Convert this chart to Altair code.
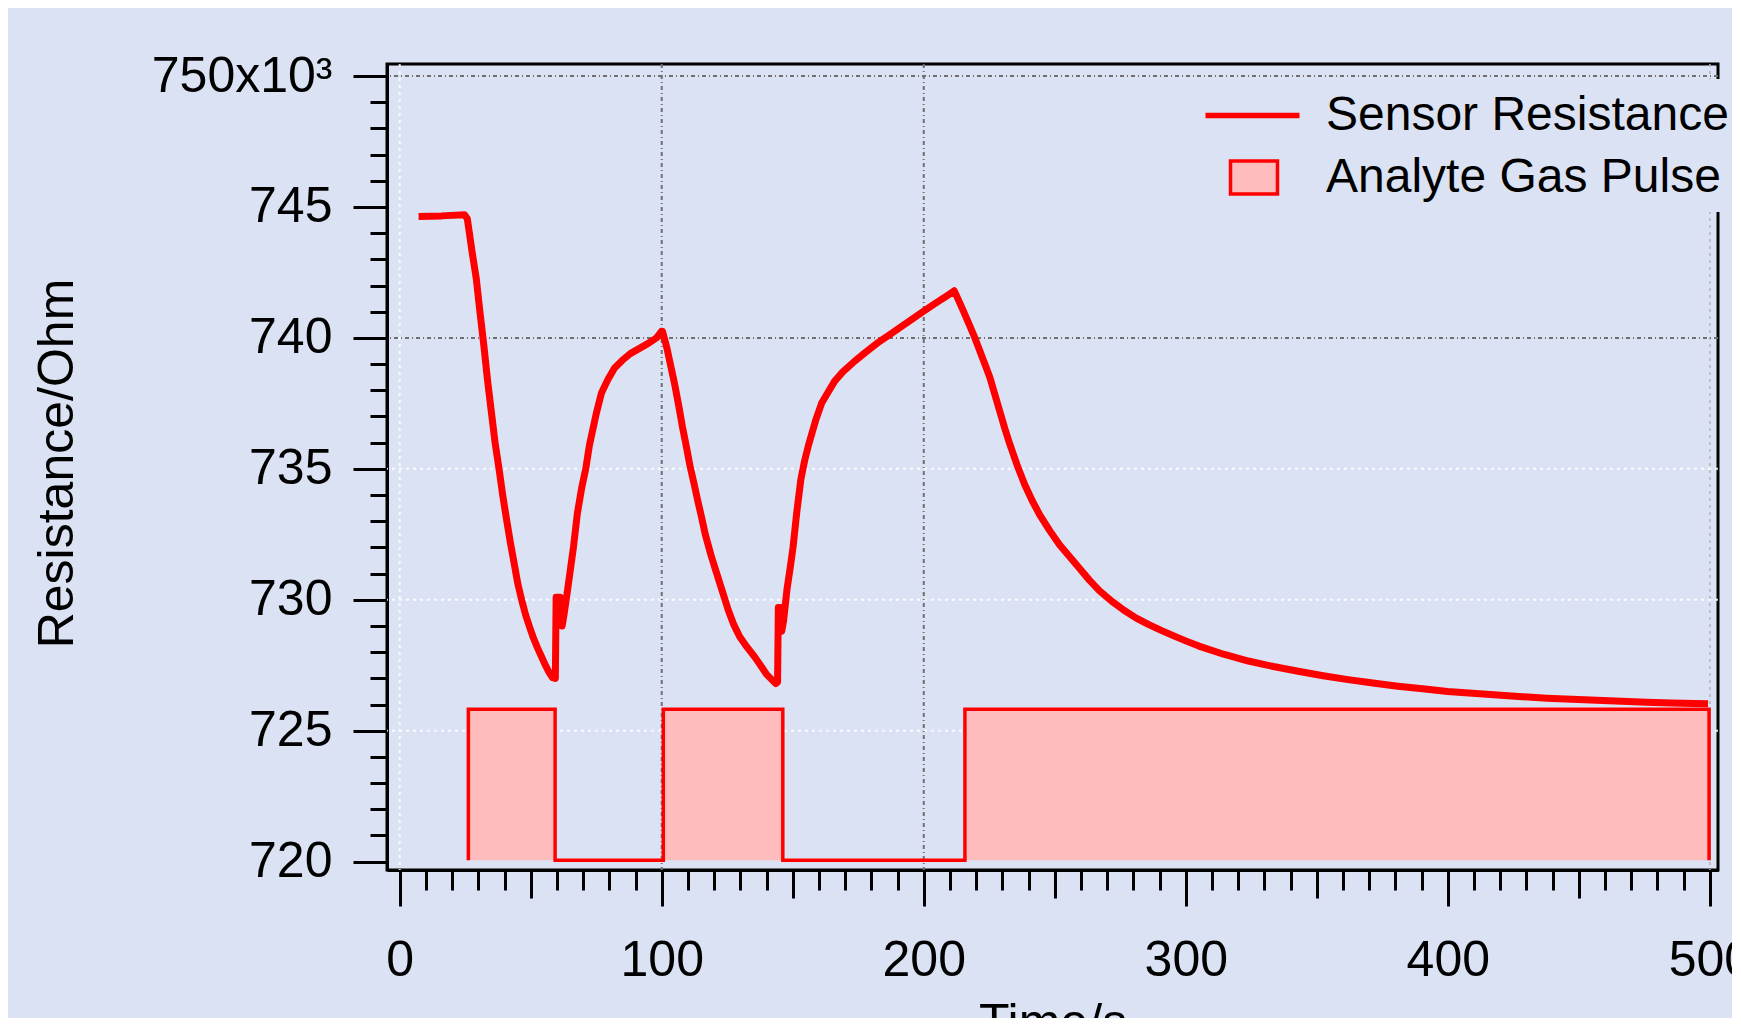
import altair as alt
import pandas as pd

BG = "#dae2f3"
FONT = "Liberation Sans"

# ---- Sensor resistance trace (time / s, resistance / kOhm) ----
trace_t = [7.2, 16.0, 24.8, 25.8, 26.6, 27.6, 29.2, 30.6, 32.1, 33.5, 35.0, 36.4, 37.9, 39.3,
           40.8, 42.2, 43.7, 45.1, 46.6, 48.1, 49.6, 51.0, 52.5, 54.0, 55.4, 56.9, 58.3, 59.4,
           59.7, 61.2, 62.0, 62.8, 64.1, 66.3, 67.8, 69.5, 71.0, 72.4, 75.1, 77.0, 79.4, 82.0,
           85.0, 88.0, 91.5, 95.0, 98.0, 99.9,
           100.3, 102.0, 103.5, 105.0, 106.5, 107.9, 109.4, 110.8, 112.3, 113.7, 115.2, 116.6,
           118.8, 121.0, 123.2, 125.4, 127.5, 129.7, 132.5, 135.6, 138.0, 140.0, 142.0, 143.5,
           144.2, 144.5, 145.2, 145.8, 146.5, 147.8, 149.0, 150.1, 151.6, 153.1, 154.5, 156.0,
           158.9, 161.0, 163.3, 166.0, 169.1, 173.5, 177.8, 182.2, 186.6, 191.0, 195.3, 199.7,
           204.1, 208.0, 211.6,
           213.0, 215.0, 217.6, 219.5, 221.4, 223.3, 225.2, 227.1, 229.0, 230.9, 232.8, 235.6,
           238.5, 241.3, 244.2, 248.0, 251.8, 255.6, 259.4, 263.2, 267.0, 271.7, 276.4, 281.1,
           285.9, 290.6, 295.4, 300.2, 305.0, 314.4, 323.9, 333.4, 342.9, 352.4, 361.9, 371.4,
           380.9, 390.4, 399.9, 409.4, 418.9, 428.4, 437.8, 447.3, 456.8, 466.3, 475.8, 485.3,
           494.0, 499.3]
trace_r = [744.64, 744.66, 744.70, 744.55, 744.0, 743.3, 742.28, 741.0, 739.72, 738.4, 737.15,
           736.0, 735.0, 734.0, 733.05, 732.2, 731.38, 730.6, 729.97, 729.4, 728.95, 728.55,
           728.18, 727.85, 727.54, 727.25, 727.03, 727.0,
           730.1, 730.1, 729.0, 729.5, 730.4, 732.0, 733.3, 734.3, 735.0, 735.9, 737.15, 737.9,
           738.4, 738.85, 739.15, 739.4, 739.6, 739.8, 740.0, 740.25,
           740.25, 739.6, 738.9, 738.2, 737.4, 736.6, 735.85, 735.1, 734.45, 733.8, 733.15,
           732.5, 731.7, 731.0, 730.3, 729.6, 729.05, 728.6, 728.2, 727.8, 727.45, 727.15,
           726.95, 726.8,
           726.85, 729.7, 729.7, 728.8, 729.2, 730.4, 731.2, 732.0, 733.4, 734.6, 735.3, 735.9,
           736.9, 737.5, 737.9, 738.35, 738.7, 739.1, 739.45, 739.8, 740.1, 740.4, 740.7, 741.0,
           741.3, 741.55, 741.8,
           741.5, 741.05, 740.45, 740.0, 739.5, 739.0, 738.5, 737.85, 737.2, 736.55, 735.95,
           735.15, 734.4, 733.8, 733.25, 732.65, 732.1, 731.65, 731.2, 730.75, 730.35, 729.95,
           729.6, 729.3, 729.05, 728.83, 728.62, 728.42, 728.23, 727.92, 727.66, 727.45, 727.27,
           727.1, 726.95, 726.82, 726.7, 726.6, 726.5, 726.43, 726.36, 726.3, 726.24, 726.2,
           726.16, 726.12, 726.09, 726.06, 726.04, 726.03]

# ---- Analyte gas pulse (step wave: off = base level, on = top level) ----
pulse_start = [26.2, 100.6, 215.7]
pulse_end = [59.3, 146.2, 499.7]
PULSE_TOP = 725.82
PULSE_BASE = 720.05

# ---- Grid lines ----
grid_x_dark = [100, 200]
grid_x_white = [0]
grid_x_edge = [500]
grid_y_dark = [740, 750]
grid_y_white = [725, 730, 735]

# ---- Axis ticks / domains ----
x_tick_values = list(range(0, 501, 10))
y_tick_values = list(range(720, 751))
X_DOMAIN = [-4.85, 503.1]
Y_DOMAIN = [719.68, 750.46]

trace_df = pd.DataFrame({"t": trace_t, "r": trace_r, "o": range(len(trace_t)),
                         "name": "Sensor Resistance"})

# step outline built from the pulse edges
step_t, step_r = [], []
for s, e in zip(pulse_start, pulse_end):
    step_t += [s, s, e, e]
    step_r += [PULSE_BASE, PULSE_TOP, PULSE_TOP, PULSE_BASE]
step_df = pd.DataFrame({"t": step_t, "r": step_r, "o": range(len(step_t))})
rect_df = pd.DataFrame({"t": pulse_start, "t2": pulse_end, "r": PULSE_TOP,
                        "r0": PULSE_BASE, "name": "Analyte Gas Pulse"})

xscale = alt.Scale(domain=X_DOMAIN, nice=False, zero=False)
yscale = alt.Scale(domain=Y_DOMAIN, nice=False, zero=False)

xaxis = alt.Axis(
    values=x_tick_values,
    labelExpr="datum.value % 100 === 0 ? '' + datum.value : ''",
    tickSize={"condition": [{"test": "datum.value % 100 === 0", "value": 36},
                            {"test": "datum.value % 50 === 0", "value": 28}],
              "value": 20},
    tickWidth=3, tickColor="black", domainColor="black", domainWidth=3,
    labelFont=FONT, labelFontSize=50, labelColor="black", labelPadding=29,
    labelOverlap=False, labelFlush=False, labelBound=False, labelLimit=0,
    grid=False,
    title="Time/s", titleFont=FONT, titleFontSize=50, titleFontWeight="normal",
    titleColor="black", titleX=665.5, titleY=168, titleBaseline="alphabetic",
    titleAlign="center", titleLimit=0,
)
yaxis = alt.Axis(
    values=y_tick_values,
    labelExpr="datum.value % 5 === 0 ? (datum.value === 750 ? '750x10\u00b3' : '' + datum.value) : ''",
    tickSize={"condition": {"test": "datum.value % 5 === 0", "value": 34}, "value": 17},
    tickWidth=3, tickColor="black", domainColor="black", domainWidth=3,
    labelFont=FONT, labelFontSize=50, labelColor="black", labelPadding=21,
    labelOverlap=False, labelFlush=False, labelBound=False, labelLimit=0,
    grid=False,
    title="Resistance/Ohm", titleFont=FONT, titleFontSize=50, titleFontWeight="normal",
    titleColor="black", titleAngle=270, titleX=-315, titleY=399,
    titleBaseline="alphabetic", titleAlign="center", titleLimit=0,
)

X = alt.X("t:Q", scale=xscale, axis=xaxis)
Y = alt.Y("r:Q", scale=yscale, axis=yaxis)

def vrules(vals, color, dash, width, opacity=1.0):
    return alt.Chart(pd.DataFrame({"t": vals})).mark_rule(
        color=color, strokeDash=dash, strokeWidth=width, opacity=opacity
    ).encode(x=X)

def hrules(vals, color, dash, width, opacity=1.0):
    return alt.Chart(pd.DataFrame({"r": vals})).mark_rule(
        color=color, strokeDash=dash, strokeWidth=width, opacity=opacity
    ).encode(y=Y)

grid = (
    hrules(grid_y_white, "#ffffff", [3, 4], 2, 0.85)
    + vrules(grid_x_white, "#ffffff", [3, 4], 2, 0.85)
    + vrules(grid_x_edge, "#b5b5b5", [3, 4], 1.5)
    + hrules(grid_y_dark, "#707070", [4, 3, 1, 3], 2)
    + vrules(grid_x_dark, "#707070", [4, 3, 1, 3], 2)
)

pulse_fill = alt.Chart(rect_df).mark_rect(opacity=1, strokeWidth=0).encode(
    x=X, x2="t2:Q", y=Y, y2="r0:Q",
    fill=alt.Fill("name:N",
                  scale=alt.Scale(domain=["Analyte Gas Pulse"], range=["#ffbcbc"]),
                  legend=alt.Legend(
                      title=None, orient="none", legendX=831.5, legendY=78,
                      symbolType="M-1,-0.7H1V0.7H-1Z", symbolSize=2209,
                      symbolStrokeColor="#ff0000", symbolStrokeWidth=3.5, symbolOpacity=1,
                      labelOffset=46.5, padding=10, fillColor=BG, labelLimit=0,
                      labelFont=FONT, labelFontSize=48, labelColor="black")),
)

pulse_line = alt.Chart(step_df).mark_line(
    color="#ff0000", strokeWidth=3.5, strokeJoin="miter"
).encode(x=X, y=Y, order="o:Q")

trace = alt.Chart(trace_df).mark_line(strokeWidth=7, strokeJoin="round").encode(
    x=X, y=Y, order="o:Q",
    stroke=alt.Stroke("name:N",
                      scale=alt.Scale(domain=["Sensor Resistance"], range=["#ff0000"]),
                      legend=alt.Legend(
                          title=None, orient="none", legendX=829, legendY=15,
                          symbolType="M-2,0H2", symbolSize=2209, symbolStrokeWidth=5.5,
                          labelOffset=47, padding=10, fillColor=BG, labelLimit=0,
                          labelFont=FONT, labelFontSize=48, labelColor="black")),
)

chart = alt.layer(grid, pulse_fill, pulse_line, trace).resolve_scale(
    fill="independent", stroke="independent"
).properties(
    width=1331, height=806,
    autosize=alt.AutoSizeParams(type="none"),
    padding={"left": 379, "top": 56, "right": 14, "bottom": 148},
    background=BG,
).configure_view(stroke="black", strokeWidth=3)

chart.save("out.html", embed_options={"renderer": "svg", "actions": False})
